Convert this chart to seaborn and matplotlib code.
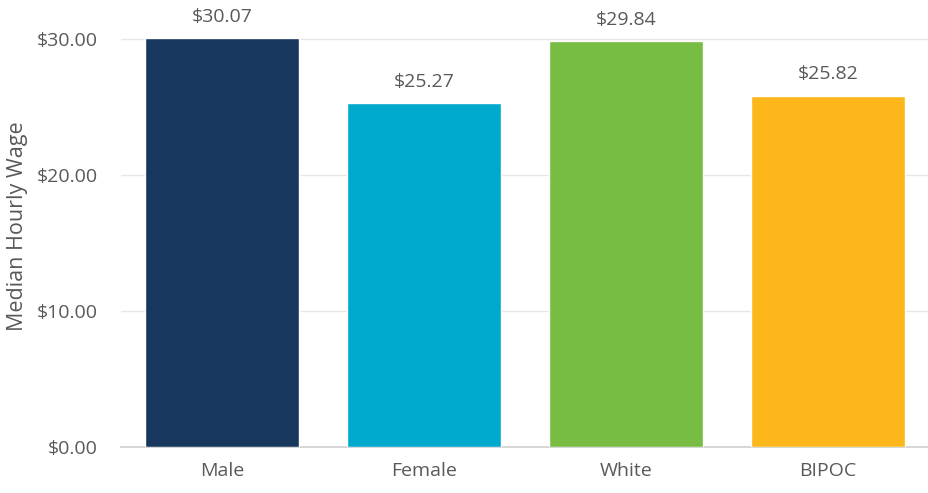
import matplotlib
matplotlib.use("Agg")
import matplotlib.pyplot as plt
from matplotlib.ticker import FuncFormatter
import seaborn as sns
import pandas as pd

groups = ["Male", "Female", "White", "BIPOC"]
wages = [30.07, 25.27, 29.84, 25.82]
colors = ["#17375E", "#00A9CE", "#77BC43", "#FDB71A"]

sns.set_theme(style="white")
plt.rcParams["font.family"] = ["Open Sans", "DejaVu Sans"]
text_color = "#595959"

df = pd.DataFrame({"group": groups, "wage": wages})

fig = plt.figure(figsize=(9.29, 4.93), dpi=100)
ax = fig.add_axes([121 / 929, 46 / 493, 808 / 929, 442 / 493])

sns.barplot(data=df, x="group", y="wage", hue="group", palette=colors,
            legend=False, width=0.767, saturation=1, ax=ax, zorder=3)

for container, v in zip(ax.containers, wages):
    ax.bar_label(container, labels=[f"${v:.2f}"], padding=9,
                 fontsize=14, color=text_color)

ax.set_xlim(-0.5, 3.5)
ax.set_ylim(0, 32.5)
ax.set_yticks([0, 10, 20, 30])
ax.yaxis.set_major_formatter(FuncFormatter(lambda v, _: f"${v:.2f}"))
ax.grid(axis="y", color="#E6E6E6", linewidth=1, zorder=0)
ax.grid(axis="x", visible=False)

for side in ["top", "right", "left"]:
    ax.spines[side].set_visible(False)
ax.spines["bottom"].set_color("#D0D0D0")
ax.spines["bottom"].set_linewidth(1.2)

ax.tick_params(axis="both", length=0, labelsize=14, labelcolor=text_color)
ax.tick_params(axis="y", pad=17)
ax.tick_params(axis="x", pad=11)
ax.set_xlabel("")
ax.set_ylabel("Median Hourly Wage", fontsize=15.5, color=text_color, labelpad=6)

fig.savefig("out.png", dpi=100)
